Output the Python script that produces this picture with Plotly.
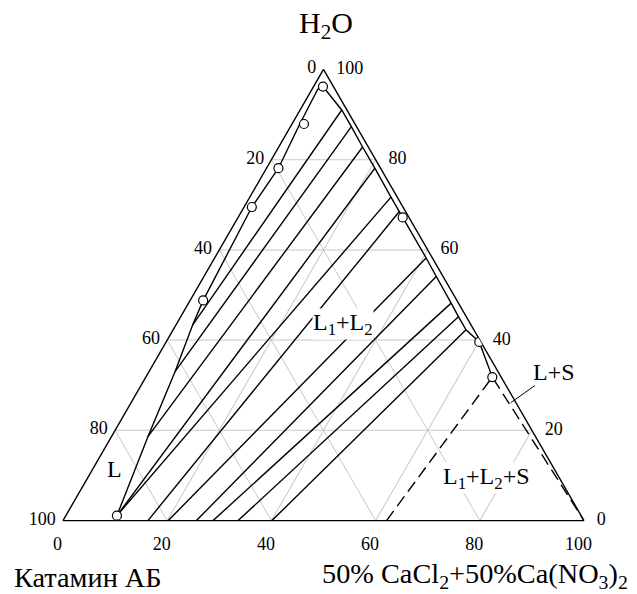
import plotly.graph_objects as go

# ---------------- data (percent): H2O (top), Катамин АБ (bottom-left), salt mix (bottom-right)
# Binodal, Katamin-rich (left) branch
left_h2o = [96.2, 95.6, 87.9, 78.1, 69.5, 48.8, 43.4, 33.0, 18.6, 1.1]
left_kat = [2.0, 3.3, 10.6, 19.6, 29.0, 48.7, 53.4, 62.0, 74.4, 89.1]
left_salt = [1.8, 1.1, 1.5, 2.3, 1.5, 2.5, 3.2, 5.0, 7.0, 9.8]

# Binodal, salt-rich (right) branch
right_h2o = [96.2, 91.0, 87.3, 82.8, 78.1, 71.7, 68.5, 67.2, 58.2, 54.1, 48.2, 45.2, 42.3, 39.6, 31.8]
right_kat = [2.0, 1.0, 1.0, 1.1, 1.1, 1.2, 1.2, 1.2, 1.2, 1.3, 1.4, 1.5, 1.5, 0.3, 1.7]
right_salt = [1.8, 8.0, 11.7, 16.1, 20.8, 27.1, 30.3, 31.6, 40.6, 44.6, 50.4, 53.3, 56.2, 60.1, 66.5]

# Tie lines: upper (salt-rich) ends
tie_up_h2o = [91.0, 87.3, 82.8, 78.1, 71.7, 68.5, 58.2, 54.1, 48.2, 45.2, 42.3]
tie_up_kat = [1.0, 1.0, 1.1, 1.1, 1.2, 1.2, 1.2, 1.3, 1.4, 1.5, 1.5]
tie_up_salt = [8.0, 11.7, 16.1, 20.8, 27.1, 30.3, 40.6, 44.6, 50.4, 53.3, 56.2]
# Tie lines: lower (Katamin-rich) ends
tie_lo_h2o = [43.4, 33.0, 18.6, 1.1, 1.1, 0.0, 0.0, 0.0, 0.0, 0.0, 0.0]
tie_lo_kat = [53.4, 62.0, 74.4, 89.1, 89.1, 83.7, 79.8, 74.4, 71.2, 66.4, 59.9]
tie_lo_salt = [3.2, 5.0, 7.0, 9.8, 9.8, 16.3, 20.2, 25.6, 28.8, 33.6, 40.1]

# Three-phase region boundaries (dashed)
tri_h2o = [0.0, 31.8, 0.0]
tri_kat = [37.9, 1.7, 0.0]
tri_salt = [62.1, 66.5, 100.0]

# Experimental points (open circles)
pts_h2o = [96.2, 87.9, 78.1, 69.5, 48.8, 1.1, 67.2, 39.6, 31.8]
pts_kat = [2.0, 9.8, 19.6, 29.0, 48.7, 89.1, 1.2, 0.3, 1.7]
pts_salt = [1.8, 2.3, 2.3, 1.5, 2.5, 9.8, 31.6, 60.1, 66.5]

tick_vals = [0, 20, 40, 60, 80, 100]
tick_text = ["100", "80", "60", "40", "20", "0"]

FONT = "Liberation Serif"
EN = "\u2002"
HAIR = "\u200a"

# ---------------- figure
fig = go.Figure()

LW = 1.4
# tie lines as one trace with gaps
ta, tb, tc = [], [], []
for i in range(len(tie_up_h2o)):
    ta += [tie_lo_h2o[i], tie_up_h2o[i], None]
    tb += [tie_lo_kat[i], tie_up_kat[i], None]
    tc += [tie_lo_salt[i], tie_up_salt[i], None]
fig.add_trace(go.Scatterternary(a=ta, b=tb, c=tc, mode="lines",
                                line=dict(color="black", width=LW), connectgaps=False,
                                hoverinfo="skip"))

fig.add_trace(go.Scatterternary(a=left_h2o, b=left_kat, c=left_salt, mode="lines",
                                line=dict(color="black", width=LW), hoverinfo="skip"))
fig.add_trace(go.Scatterternary(a=right_h2o, b=right_kat, c=right_salt, mode="lines",
                                line=dict(color="black", width=LW), hoverinfo="skip"))

fig.add_trace(go.Scatterternary(a=tri_h2o, b=tri_kat, c=tri_salt, mode="lines",
                                line=dict(color="black", width=LW, dash="12px,6px"),
                                hoverinfo="skip"))

fig.add_trace(go.Scatterternary(a=pts_h2o, b=pts_kat, c=pts_salt, mode="markers",
                                marker=dict(symbol="circle", size=9, color="white",
                                            line=dict(color="black", width=1.2)),
                                hoverinfo="skip"))


def axis(ticktext, ticks="", ticklen=0):
    return dict(
        tickmode="array", tickvals=tick_vals, ticktext=ticktext,
        showgrid=True, gridcolor="#c8c8c8", gridwidth=1,
        showline=True, linecolor="black", linewidth=1.4,
        ticks=ticks, ticklen=ticklen, tickcolor="rgba(0,0,0,0)",
        tickfont=dict(family=FONT, size=18, color="black"),
        title=dict(text=""), layer="below traces", min=0,
    )


# Katamin labels on the left edge, salt labels on the bottom, H2O labels on the right edge
a_axis = axis(tick_text, ticks="outside", ticklen=4)
b_axis = axis([t + EN + EN for t in tick_text], ticks="outside", ticklen=7)
c_axis = axis([EN + HAIR + t for t in tick_text])

L, R, T, B = 63, 53, 69, 73
W, H = 637, 594
PW, PH = W - L - R, H - T - B


def xp(px):
    return (px - L) / PW


def yp(py):
    return 1 - (py - T) / PH


fig.update_layout(
    width=W, height=H,
    margin=dict(l=L, r=R, t=T, b=B, pad=0),
    paper_bgcolor="white", plot_bgcolor="white",
    showlegend=False,
    font=dict(family=FONT, color="black"),
    ternary=dict(sum=100, bgcolor="white", domain=dict(x=[0, 1], y=[0, 1]),
                 aaxis=a_axis, baxis=b_axis, caxis=c_axis),
)

ann = []
ann.append(dict(text="H<sub>2</sub>O", x=xp(326), y=yp(25), font=dict(size=30)))
ann.append(dict(text="Катамин АБ", x=xp(12), y=yp(577), xanchor="left", font=dict(size=28.3)))
ann.append(dict(text="50% CaCl<sub>2</sub>+50%Ca(NO<sub>3</sub>)<sub>2</sub>", x=xp(320), y=yp(575),
                xanchor="left", font=dict(size=28.3)))
ann.append(dict(text="L<sub>1</sub>+L<sub>2</sub>", x=xp(343), y=yp(324), font=dict(size=24),
                bgcolor="white", borderpad=0))
ann.append(dict(text="L<sub>1</sub>+L<sub>2</sub>+S", x=xp(486), y=yp(478), font=dict(size=24),
                bgcolor="white", borderpad=0))
ann.append(dict(text="L", x=xp(114), y=yp(469), font=dict(size=24)))
ann.append(dict(text="L+S", x=xp(510.7), y=yp(402.7), ax=43.3, ay=-30.7, showarrow=True,
                arrowhead=0, arrowwidth=1, arrowcolor="black", font=dict(size=24),
                bgcolor="white", borderpad=0))
for a in ann:
    a.setdefault("xref", "paper")
    a.setdefault("yref", "paper")
    a.setdefault("showarrow", False)
    a.setdefault("xanchor", "center")
    a.setdefault("yanchor", "middle")
    a["font"] = dict(family=FONT, color="black", size=a["font"]["size"])
fig.update_layout(annotations=ann)

fig.write_html("out.html")
